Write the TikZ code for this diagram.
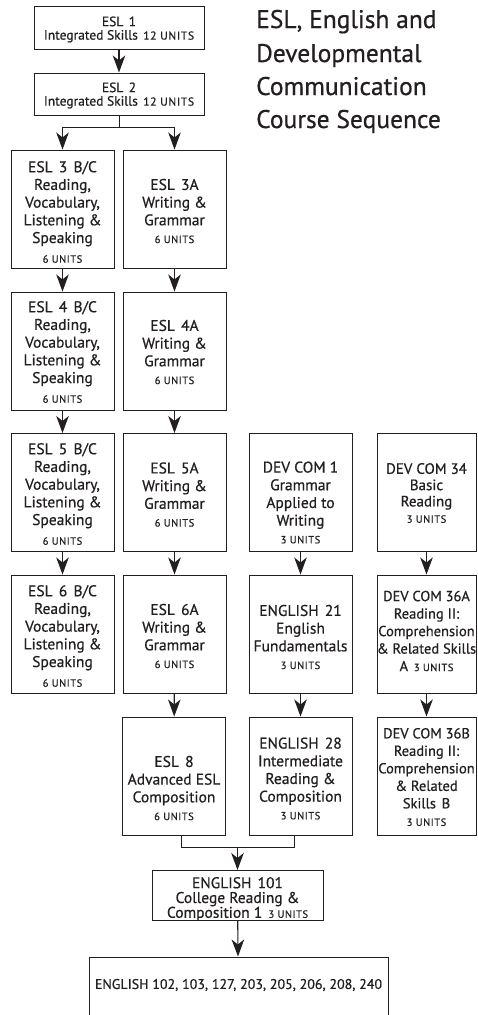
\documentclass[tikz,border=0pt]{standalone}
\usepackage{fontspec}
\setmainfont{PT Sans}[FakeBold=0.6]
\usetikzlibrary{arrows.meta,calc}
\definecolor{ink}{RGB}{35,31,32}
\newcommand\unitsz[1]{{\fontsize{10.5}{12}\selectfont\addfontfeature{LetterSpace=5}#1}}
\newcommand\unitsw[1]{{\fontsize{11.5}{12}\selectfont\addfontfeature{LetterSpace=6}#1}}
\newcommand\gp{\hspace{0.4em}}
\begin{document}
\begin{tikzpicture}[x=1pt,y=-1pt,
  frame/.style={draw=ink,line width=1pt,inner sep=0pt},
  widebox/.style={frame,minimum width=170pt,minimum height=43pt},
  colbox/.style={frame,minimum width=103pt,minimum height=118pt},
  rcolbox/.style={frame,minimum width=99pt,minimum height=118pt},
  txt/.style={text=ink,align=center,inner sep=0pt,font=\fontsize{15.5}{17.7}\selectfont},
  rtxt/.style={txt,font=\fontsize{14.5}{17.5}\selectfont},
  wtxt/.style={text=ink,align=center,inner sep=0pt,font=\fontsize{13.5}{13.5}\selectfont},
  ttl/.style={text=ink,anchor=base west,inner sep=0pt,font=\fontsize{25.5}{33}\selectfont},
  arr/.style={draw=ink,line width=1.1pt,-{Stealth[length=17pt,width=12.5pt,inset=5pt]}},
  ln/.style={draw=ink,line width=1pt}]
\useasboundingbox (0,0) rectangle (477,1015);
\fill[white] (0,0) rectangle (477,1015);

% title
\node[ttl] (t1) at (256,28) {ESL, English and};
\node[ttl] (t2) at (256,62) {Developmental};
\node[ttl] (t3) at (256,95) {Communication};
\node[ttl] (t4) at (256,128) {Course Sequence};

% boxes
\node[widebox] (e1) at (119,27.5) {};
\node[widebox,minimum height=42pt] (e2) at (119,94) {};
\node[colbox] (e3bc) at (62.5,209) {};
\node[colbox] (e3a) at (174.5,209) {};
\node[colbox] (e4bc) at (62.5,351) {};
\node[colbox] (e4a) at (174.5,351) {};
\node[colbox] (e5bc) at (62.5,492.5) {};
\node[colbox] (e5a) at (174.5,492.5) {};
\node[colbox] (d1) at (300.5,492) {};
\node[rcolbox] (d34) at (426.5,492) {};
\node[colbox] (e6bc) at (62.5,634) {};
\node[colbox] (e6a) at (174.5,634) {};
\node[colbox] (e21) at (300.5,634) {};
\node[rcolbox] (d36a) at (426.5,634) {};
\node[colbox] (e8) at (174,776) {};
\node[colbox] (e28) at (300.5,776) {};
\node[rcolbox] (d36b) at (426.5,776) {};
\node[frame,minimum width=171pt,minimum height=50pt] (e101) at (237.5,895.5) {};
\node[frame,minimum width=299pt,minimum height=110pt] (eall) at (238.5,1012) {};

% texts
\node[wtxt] (e1t) at (119,29.5) {ESL\gp 1\\Integrated Skills\gp\unitsw{12 UNITS}};
\node[wtxt] (e2t) at (119,95.5) {ESL\gp 2\\Integrated Skills\gp\unitsw{12 UNITS}};
\node[txt] (e3bct) at (62.5,212) {ESL\gp 3\gp B/C\\Reading,\\Vocabulary,\\Listening \&\\Speaking\\[2pt]\unitsz{6 UNITS}};
\node[txt] (e3at) at (174.5,211) {ESL\gp 3A\\Writing \&\\Grammar\\\unitsz{6 UNITS}};
\node[txt] (e4bct) at (62.5,352) {ESL\gp 4\gp B/C\\Reading,\\Vocabulary,\\Listening \&\\Speaking\\[2pt]\unitsz{6 UNITS}};
\node[txt] (e4at) at (174.5,352) {ESL\gp 4A\\Writing \&\\Grammar\\\unitsz{6 UNITS}};
\node[txt] (e5bct) at (62.5,494) {ESL\gp 5\gp B/C\\Reading,\\Vocabulary,\\Listening \&\\Speaking\\[2pt]\unitsz{6 UNITS}};
\node[txt] (e5at) at (174.5,494.5) {ESL\gp 5A\\Writing \&\\Grammar\\\unitsz{6 UNITS}};
\node[txt] (d1t) at (300.5,502.5) {DEV COM 1\\Grammar\\Applied to\\Writing\\\unitsz{3 UNITS}};
\node[rtxt,font=\fontsize{15}{16.3}\selectfont] (d34t) at (426.5,493) {DEV COM 34\\Basic\\Reading\\\unitsz{3 UNITS}};
\node[txt] (e6bct) at (62.5,636) {ESL\gp 6\gp B/C\\Reading,\\Vocabulary,\\Listening \&\\Speaking\\[2pt]\unitsz{6 UNITS}};
\node[txt] (e6at) at (174.5,636) {ESL\gp 6A\\Writing \&\\Grammar\\\unitsz{6 UNITS}};
\node[txt] (e21t) at (300.5,637) {ENGLISH\gp 21\\English\\Fundamentals\\\unitsz{3 UNITS}};
\node[rtxt] (d36at) at (426.5,631) {DEV COM 36A\\Reading II:\\Comprehension\\\& Related Skills\\A\gp\unitsz{3 UNITS}};
\node[txt] (e8t) at (174,788) {ESL\gp 8\\Advanced ESL\\Composition\\\unitsz{6 UNITS}};
\node[txt] (e28t) at (300.5,778.5) {ENGLISH\gp 28\\Intermediate\\Reading \&\\Composition\\\unitsz{3 UNITS}};
\node[rtxt] (d36bt) at (426.5,777) {DEV COM 36B\\Reading II:\\Comprehension\\\& Related\\Skills\gp B\\\unitsz{3 UNITS}};
\node[txt,font=\fontsize{15.5}{14.8}\selectfont] (e101t) at (237.5,899) {ENGLISH\gp 101\\College Reading \&\\Composition 1\gp\unitsz{3 UNITS}};
\node[txt,font=\fontsize{14}{16}\selectfont] (eallt) at (238.5,985) {ENGLISH 102, 103, 127, 203, 205, 206, 208, 240};

% connectors
\draw[arr] (e1.south) -- (e2.north);
\coordinate (br) at ($(e2.south)+(0,12)$);
\draw[ln] (e2.south) -- (br);
\draw[arr] (br) -| (e3bc.north);
\draw[arr] (br) -| (e3a.north);
\draw[arr] (e3bc) -- (e4bc);
\draw[arr] (e3a) -- (e4a);
\draw[arr] (e4bc) -- (e5bc);
\draw[arr] (e4a) -- (e5a);
\draw[arr] (e5bc) -- (e6bc);
\draw[arr] (e5a) -- (e6a);
\draw[arr] (e6a) -- (e8);
\draw[arr] (d1) -- (e21);
\draw[arr] (e21) -- (e28);
\draw[arr] (d34) -- (d36a);
\draw[arr] (d36a) -- (d36b);
\coordinate (m1) at (181,847);
\coordinate (m2) at (294,847);
\draw[ln] (e8.south -| m1) -- (m1) -- (m2) -- (e28.south -| m2);
\draw[arr] (m1 -| e101.north) -- (e101.north);
\draw[arr] (e101) -- (eall);
\end{tikzpicture}
\end{document}
